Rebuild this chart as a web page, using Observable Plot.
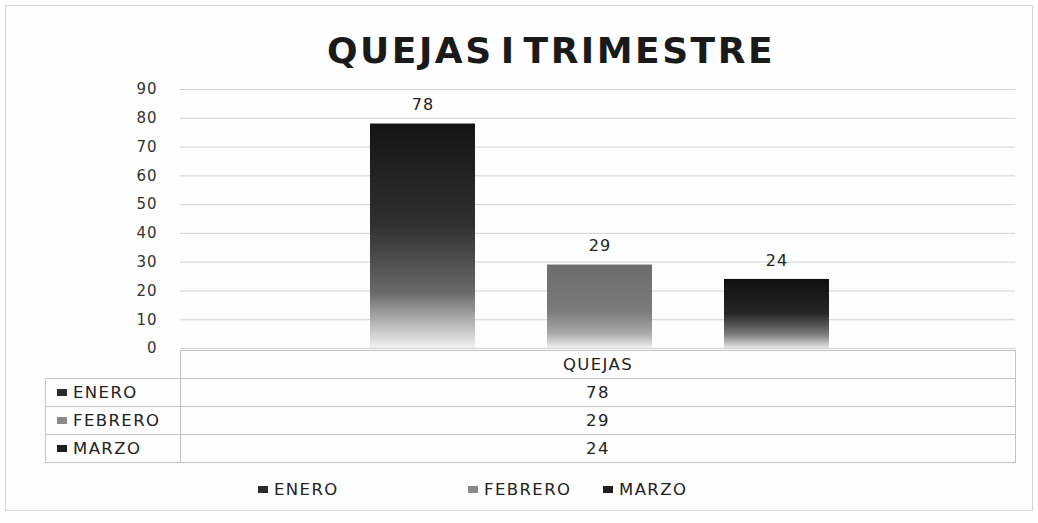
<!DOCTYPE html>
<html>
<head>
<meta charset="utf-8">
<script src="https://cdn.jsdelivr.net/npm/d3@7"></script>
<script src="https://cdn.jsdelivr.net/npm/@observablehq/plot@0.6"></script>
<style>
  html, body { margin: 0; padding: 0; background: #fefefe; }
  #wrap { position: relative; width: 1038px; height: 523px; overflow: hidden; font-family: "DejaVu Sans", sans-serif; color: #222; }
  #frame { position: absolute; left: 5px; top: 5px; width: 1028px; height: 506px; border: 1px solid #d4d4d4; box-sizing: border-box; }
  #title { position: absolute; left: 0; width: 1038px; top: 33px; line-height: 36px; text-align: center; font-family: "DejaVu Sans", sans-serif; font-weight: bold; font-size: 36px; letter-spacing: 2.5px; word-spacing: -8px; color: #1a1a1a; padding-left: 64px; box-sizing: border-box; }
  #chart { position: absolute; left: 0; top: 0; }
  #table { position: absolute; left: 45px; top: 350px; border-collapse: collapse; table-layout: fixed; width: 970px; font-size: 16.5px; letter-spacing: 1.4px; }
  #table td { border: 1px solid #c4c4c4; padding: 0; color: #222; height: 27px; }
  #table td.blank { border-top: none; border-left: none; }
  #table td.val { text-align: center; }
  #table td.lab { padding-left: 11px; white-space: nowrap; overflow: visible; }
  .sw { display: inline-block; width: 10px; height: 7px; margin-right: 6px; vertical-align: 2px; }
  #legend { position: absolute; top: 480px; left: 0; font-size: 16.5px; letter-spacing: 1.4px; }
  #legend .item { position: absolute; white-space: nowrap; }
</style>
</head>
<body>
<div id="wrap">
  <div id="frame"></div>
  <div id="title"></div>
  <div id="chart"></div>
  <table id="table"><colgroup><col style="width:135px"><col style="width:835px"></colgroup><tbody></tbody></table>
  <div id="legend"></div>
</div>
<script>
// ---- data ----
const title = "QUEJAS I TRIMESTRE";
const category = "QUEJAS";
const months = ["ENERO", "FEBRERO", "MARZO"];
const values = [78, 29, 24];
const yTicks = [0, 10, 20, 30, 40, 50, 60, 70, 80, 90];

// ---- styles ----
const swatchColors = {ENERO: "#2b2b2b", FEBRERO: "#8a8a8a", MARZO: "#1e1e1e"};
const gradStops = {
  ENERO:   [[0, "#141414"], [0.45, "#303030"], [0.75, "#686868"], [0.9, "#bcbcbc"], [1, "#f2f2f2"]],
  FEBRERO: [[0, "#6c6c6c"], [0.55, "#7a7a7a"], [0.82, "#a8a8a8"], [1, "#f0f0f0"]],
  MARZO:   [[0, "#101010"], [0.5, "#262626"], [0.8, "#7a7a7a"], [1, "#e6e6e6"]]
};
const gradId = m => "grad-" + m;

const data = months.map((m, i) => ({month: m, value: values[i]}));

document.getElementById("title").textContent = title;

const NS = "http://www.w3.org/2000/svg";
function gradientDefs() {
  const defs = document.createElementNS(NS, "defs");
  for (const m of months) {
    const g = document.createElementNS(NS, "linearGradient");
    g.setAttribute("id", gradId(m));
    g.setAttribute("x1", "0"); g.setAttribute("y1", "0");
    g.setAttribute("x2", "0"); g.setAttribute("y2", "1");
    for (const [o, c] of gradStops[m]) {
      const s = document.createElementNS(NS, "stop");
      s.setAttribute("offset", o);
      s.setAttribute("stop-color", c);
      g.appendChild(s);
    }
    defs.appendChild(g);
  }
  return defs;
}

const plot = Plot.plot({
  width: 1038,
  height: 360,
  marginLeft: 180,
  marginRight: 23,
  marginTop: 89,
  marginBottom: 12,
  style: {background: "transparent", fontFamily: "DejaVu Sans, sans-serif", fontSize: "15px", color: "#333", letterSpacing: "1px"},
  x: {domain: months, range: [369.5, 828.5], paddingInner: 0.407, paddingOuter: 0, axis: null},
  y: {domain: [0, 90], ticks: yTicks, tickSize: 0, tickPadding: 23, label: null},
  marks: [
    gradientDefs,
    Plot.ruleY(yTicks, {stroke: "#d2d2d2", strokeWidth: 1}),
    Plot.barY(data, {x: "month", y: "value", fill: d => `url(#${gradId(d.month)})`}),
    Plot.text(data, {x: "month", y: "value", text: d => String(d.value), dy: -19, fill: "#222", fontSize: 16})
  ]
});
document.getElementById("chart").appendChild(plot);

// data table
const tbody = document.querySelector("#table tbody");
const head = tbody.insertRow();
const blank = head.insertCell(); blank.className = "blank";
const hc = head.insertCell(); hc.className = "val"; hc.textContent = category;
months.forEach((m, i) => {
  const r = tbody.insertRow();
  const l = r.insertCell(); l.className = "lab";
  l.innerHTML = `<span class="sw" style="background:${swatchColors[m]}"></span>${m}`;
  const v = r.insertCell(); v.className = "val"; v.textContent = values[i];
});

// legend
const legend = document.getElementById("legend");
const legendLeft = [258, 468, 603];
months.forEach((m, i) => {
  const it = document.createElement("div");
  it.className = "item";
  it.style.left = legendLeft[i] + "px";
  it.innerHTML = `<span class="sw" style="background:${swatchColors[m]}"></span>${m}`;
  legend.appendChild(it);
});
</script>
</body>
</html>
